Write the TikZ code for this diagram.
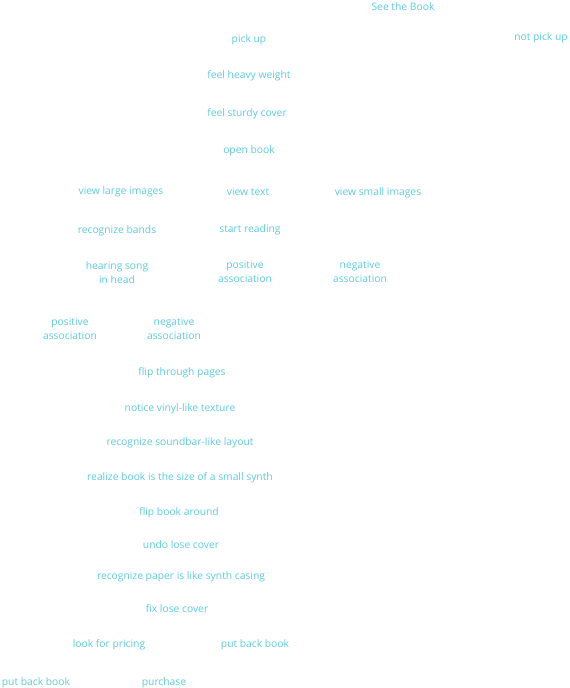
\documentclass[tikz,border=0pt]{standalone}
\usepackage{fontspec}
\setmainfont{Open Sans}
\definecolor{lbl}{HTML}{5CCADC}
\begin{document}
\begin{tikzpicture}[x=1pt,y=-1pt,
  lab/.style={text=lbl,font=\fontsize{10.3}{14}\selectfont,inner sep=0pt,align=center,yshift=-1.7pt}]
\useasboundingbox (0,0) rectangle (570,688);
\node[lab] (see) at (403,5) {See the Book};
\node[lab] (pick) at (249,38) {pick up};
\node[lab] (notpick) at (541,36) {not pick up};
\node[lab] (heavy) at (249,74) {feel heavy weight};
\node[lab] (sturdy) at (247,112) {feel sturdy cover};
\node[lab] (open) at (249,149) {open book};
\node[lab] (large) at (121,190) {view large images};
\node[lab] (text) at (248,190) {view text};
\node[lab] (small) at (378,191) {view small images};
\node[lab] (bands) at (117,229) {recognize bands};
\node[lab] (reading) at (250,228) {start reading};
\node[lab] (song) at (117,271) {hearing song\\in head};
\node[lab] (pos1) at (245,270) {positive\\association};
\node[lab] (neg1) at (360,270) {negative\\association};
\node[lab] (pos2) at (70,327) {positive\\association};
\node[lab] (neg2) at (174,327) {negative\\association};
\node[lab] (flip) at (182,371) {flip through pages};
\node[lab] (vinyl) at (180,407) {notice vinyl-like texture};
\node[lab] (soundbar) at (180,441) {recognize soundbar-like layout};
\node[lab] (synth) at (180,476) {realize book is the size of a small synth};
\node[lab] (around) at (179,511) {flip book around};
\node[lab] (undo) at (181,543) {undo lose cover};
\node[lab] (paper) at (181,575) {recognize paper is like synth casing};
\node[lab] (fix) at (177,607) {fix lose cover};
\node[lab] (pricing) at (109,643) {look for pricing};
\node[lab] (back1) at (255,643) {put back book};
\node[lab] (back2) at (36,681) {put back book};
\node[lab] (purchase) at (164,681) {purchase};
\end{tikzpicture}
\end{document}
